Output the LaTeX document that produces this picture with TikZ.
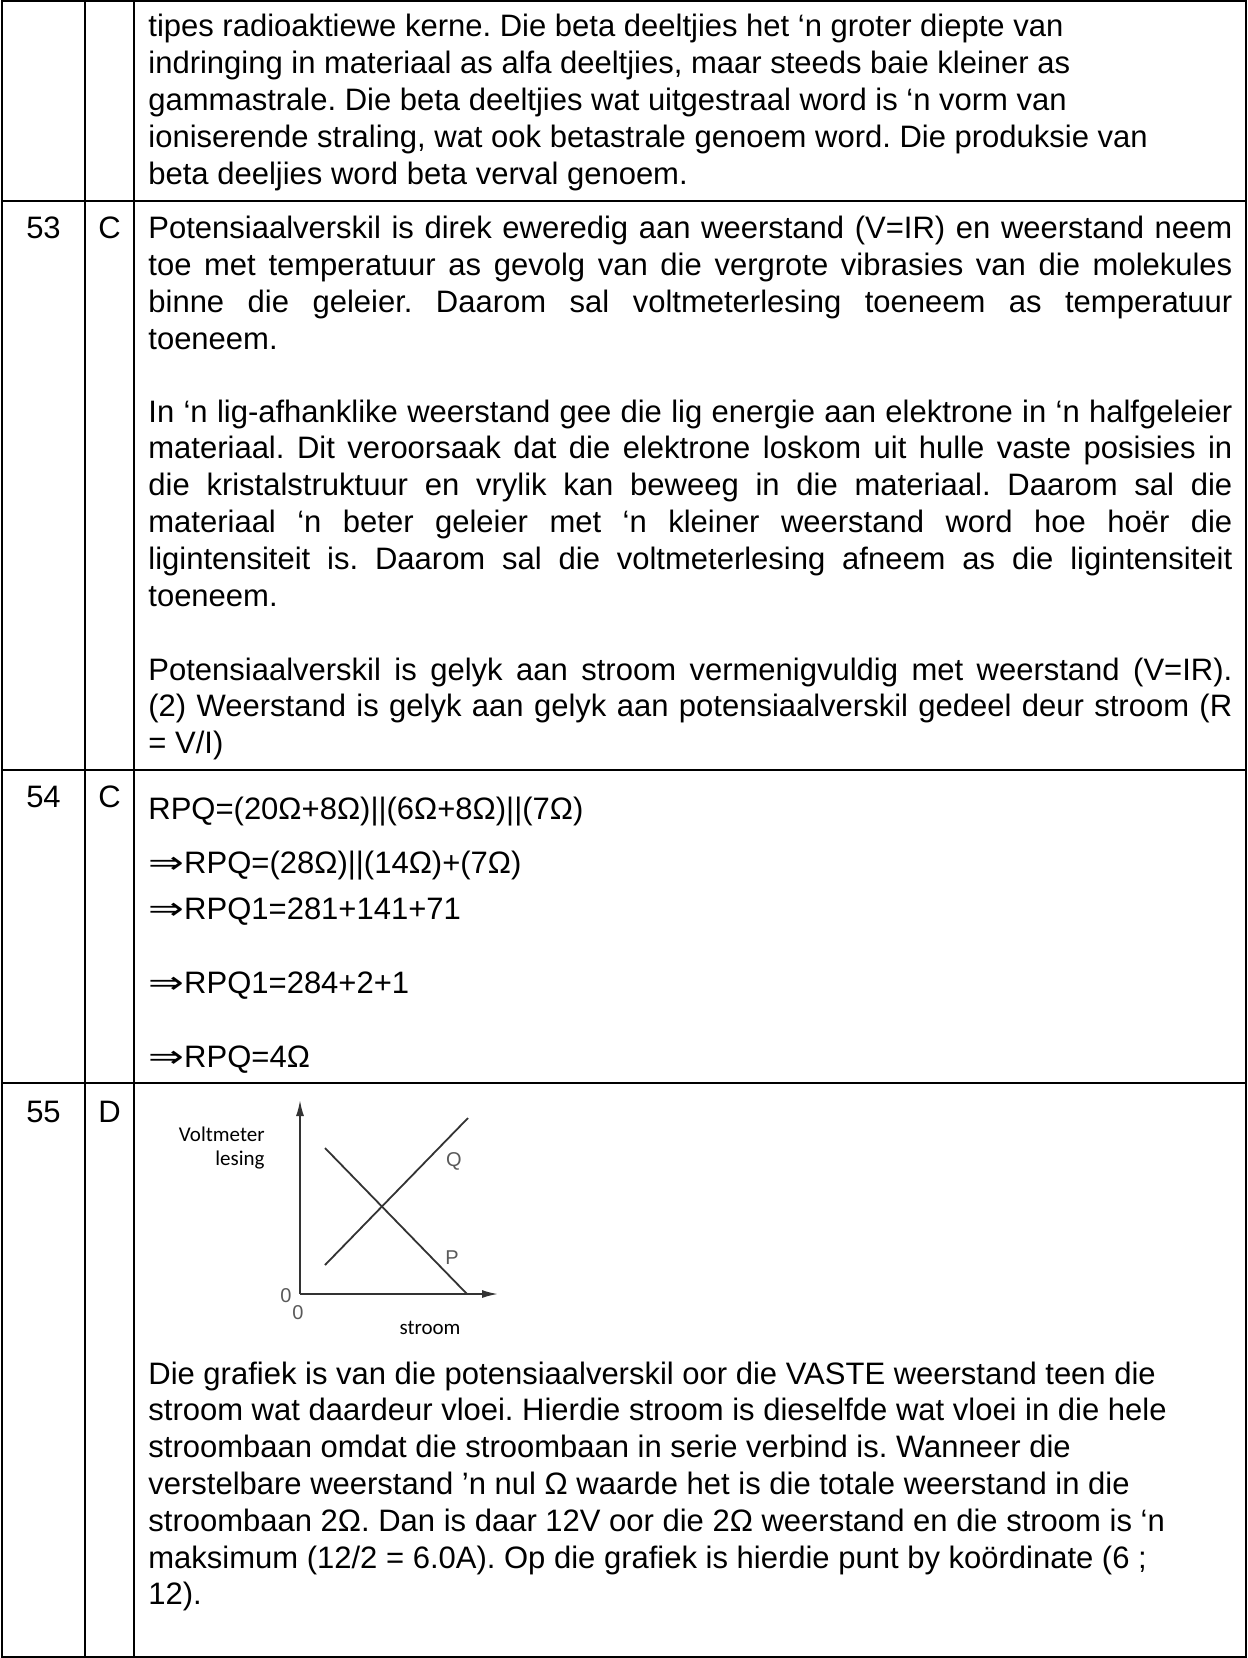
\documentclass[tikz,border=0pt]{standalone}
\usepackage{fontspec}
\usepackage{graphicx}
\setmainfont{Liberation Sans}
\newfontfamily\calfont{Carlito}
\newfontfamily\arrowfam{DejaVu Sans}
\usetikzlibrary{arrows.meta}
\frenchspacing
\newcommand\celltext{\fontsize{15.5pt}{18.4pt}\selectfont}
\newcommand\thenarrow{\scalebox{1.38}[1]{\arrowfam ⇒}}

\begin{document}
\begin{tikzpicture}[x=0.5pt,y=-0.5pt,
  cell/.style={anchor=base west,inner sep=0pt,text width=545pt,align=flush left,font=\celltext},
  celljust/.style={cell,text width=542pt,align=justify},
  nr/.style={anchor=base,inner sep=0pt,font=\celltext},
  rule/.style={line width=1pt},
  axisline/.style={line width=0.9pt,black!80,-{Latex[length=8pt,width=4pt]}},
  graphline/.style={line width=0.9pt,black!80},
  axlabel/.style={inner sep=0pt,font=\calfont\fontsize{10.5pt}{12pt}\selectfont},
  curvelabel/.style={inner sep=0pt,black!65,font=\fontsize{10pt}{11pt}\selectfont}]

\useasboundingbox (0,0) rectangle (1247,1658);

\draw[rule] (2,1) -- (1246,1) -- (1246,1657) -- (2,1657) -- cycle;
\draw[rule] (85,1) -- (85,1657);
\draw[rule] (134,1) -- (134,1657);
\foreach \y in {201,770,1083} \draw[rule] (2,\y) -- (1246,\y);


\node[cell] (t52) at (148,37) {tipes radioaktiewe kerne. Die beta deeltjies het ‘n groter diepte van\\
indringing in materiaal as alfa deeltjies, maar steeds baie kleiner as\\
gammastrale. Die beta deeltjies wat uitgestraal word is ‘n vorm van\\
ioniserende straling, wat ook betastrale genoem word. Die produksie van\\
beta deeljies word beta verval genoem.};


\node[nr] (n53) at (43.5,239) {53};
\node[nr] (a53) at (109.5,239) {C};
\node[celljust] (t53a) at (148,239) {Potensiaalverskil is direk eweredig aan weerstand (V=IR) en weerstand neem\linebreak
toe met temperatuur as gevolg van die vergrote vibrasies van die molekules\linebreak
binne die geleier. Daarom sal voltmeterlesing toeneem as temperatuur\linebreak
toeneem.};
\node[celljust] (t53b) at (148,422) {In ‘n lig-afhanklike weerstand gee die lig energie aan elektrone in ‘n halfgeleier\linebreak
materiaal. Dit veroorsaak dat die elektrone loskom uit hulle vaste posisies in\linebreak
die kristalstruktuur en vrylik kan beweeg in die materiaal. Daarom sal die\linebreak
materiaal ‘n beter geleier met ‘n kleiner weerstand word hoe hoër die\linebreak
ligintensiteit is. Daarom sal die voltmeterlesing afneem as die ligintensiteit\linebreak
toeneem.};
\node[celljust] (t53c) at (148,680) {Potensiaalverskil is gelyk aan stroom vermenigvuldig met weerstand (V=IR).\linebreak
(2) Weerstand is gelyk aan gelyk aan potensiaalverskil gedeel deur stroom (R\linebreak
= V/I)};


\node[nr] (n54) at (43.5,807) {54};
\node[nr] (a54) at (109.5,807) {C};
\node[cell] (f1) at (148,819) {RPQ=(20Ω+8Ω)||(6Ω+8Ω)||(7Ω)};
\node[cell] (f2) at (148,873) {\thenarrow RPQ=(28Ω)||(14Ω)+(7Ω)};
\node[cell] (f3) at (148,919) {\thenarrow RPQ1=281+141+71};
\node[cell] (f4) at (148,993) {\thenarrow RPQ1=284+2+1};
\node[cell] (f5) at (148,1067) {\thenarrow RPQ=4Ω};


\node[nr] (n55) at (43.5,1122) {55};
\node[nr] (a55) at (109.5,1122) {D};

\coordinate (o) at (300,1294);
\coordinate (ytip) at (300,1100);
\coordinate (xtip) at (498,1294);
\coordinate (q1) at (325,1265);
\coordinate (q2) at (468,1118);
\coordinate (p1) at (325,1148);
\coordinate (p2) at (467,1294);
\draw[axisline] (o) -- (ytip);
\draw[axisline] (o) -- (xtip);
\draw[graphline] (q1) -- (q2);
\draw[graphline] (p1) -- (p2);
\node[axlabel,anchor=base east] (yl1) at (265,1141) {Voltmeter};
\node[axlabel,anchor=base east] (yl2) at (265,1165) {lesing};
\node[axlabel,anchor=base] (xl) at (430,1334) {stroom};
\node[curvelabel] (lq) at (454,1161) {Q};
\node[curvelabel] (lp) at (452,1258) {P};
\node[curvelabel] (z1) at (286,1296) {0};
\node[curvelabel] (z2) at (298,1313) {0};

\node[cell] (t55) at (148,1384) {Die grafiek is van die potensiaalverskil oor die VASTE weerstand teen die\\
stroom wat daardeur vloei. Hierdie stroom is dieselfde wat vloei in die hele\\
stroombaan omdat die stroombaan in serie verbind is. Wanneer die\\
verstelbare weerstand ’n nul Ω waarde het is die totale weerstand in die\\
stroombaan 2Ω. Dan is daar 12V oor die 2Ω weerstand en die stroom is ‘n\\
maksimum (12/2 = 6.0A). Op die grafiek is hierdie punt by koördinate (6 ;\\
12).};
\end{tikzpicture}
\end{document}
